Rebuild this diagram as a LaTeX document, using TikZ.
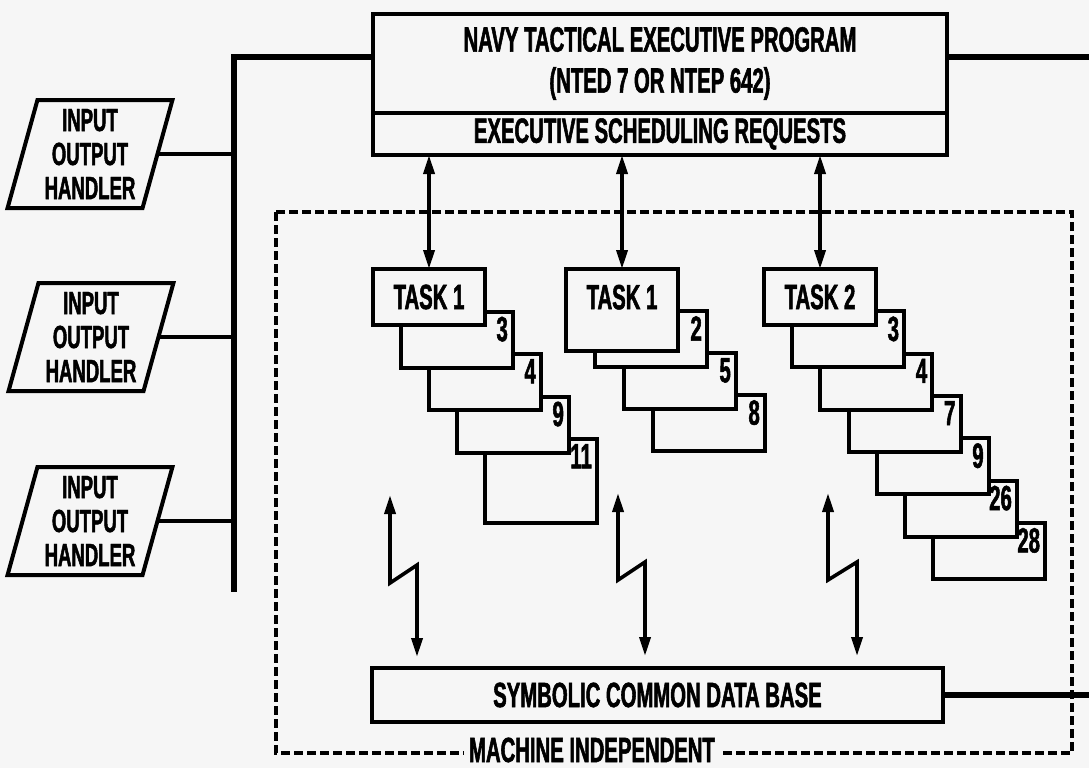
\documentclass[tikz,border=0pt]{standalone}
\usepackage{fontspec}
\newfontfamily\cond{Liberation Sans}[FakeStretch=0.58, BoldFeatures={FakeBold=1.5}]
\usetikzlibrary{arrows.meta, positioning, calc, shapes.geometric}
\definecolor{paper}{RGB}{246,246,246}

\tikzset{
  box/.style={draw, line width=4pt, fill=paper, inner sep=0pt, outer sep=0pt},
  taskbox/.style={box, anchor=north west, minimum width=112pt, minimum height=56pt},
  iobox/.style={box, trapezium, trapezium left angle=74, trapezium right angle=106,
    trapezium stretches=true, minimum width=165pt, minimum height=108pt, align=center,
    font=\cond\bfseries\fontsize{32}{34}\selectfont},
  numlabel/.style={anchor=north east, inner sep=5pt},
  bus/.style={line width=6.5pt},
  link/.style={line width=3.6pt},
  dblarrow/.style={line width=3.6pt, {Triangle[length=19pt,width=11pt]}-{Triangle[length=19pt,width=11pt]}},
  bolt/.style={dblarrow, line join=miter},
  frame/.style={line width=4pt, dash pattern=on 9pt off 4pt},
}

\begin{document}
\begin{tikzpicture}[x=1pt, y=-1pt, font=\cond\bfseries\fontsize{35}{41}\selectfont]
\fill[paper] (0,0) rectangle (1089,768);
\useasboundingbox (0,0) rectangle (1089,768);

% Rahmen
\draw[frame] (276,212) rectangle (1072,753);
\node[fill=paper, inner xsep=5pt, inner ysep=0pt] (mi) at (592,750) {MACHINE INDEPENDENT};

% Executive
\node[box, anchor=north west, minimum width=574pt, minimum height=99pt, align=center]
  (ntep) at (373,14) {NAVY TACTICAL EXECUTIVE PROGRAM\\(NTED 7 OR NTEP 642)};
\node[box, below=0pt of ntep, minimum width=574pt, minimum height=42pt]
  (esr) {EXECUTIVE SCHEDULING REQUESTS};

% I/O handlers
\node[iobox] (io1) at (90,154) {INPUT\\OUTPUT\\HANDLER};
\node[iobox] (io2) at (91,337) {INPUT\\OUTPUT\\HANDLER};
\node[iobox] (io3) at (90,521) {INPUT\\OUTPUT\\HANDLER};

% Bus
\coordinate (bustop) at (234,57);
\coordinate (busend) at (234,592);
\coordinate (rightend) at (1089,57);
\draw[bus] (bustop -| ntep.west) -- (bustop) -- (busend);
\draw[bus] (bustop -| ntep.east) -- (rightend);
\foreach \i in {1,2,3}
  \draw[link] (io\i.east) -- (io\i.east -| busend);

% Stapel 1
\foreach \k/\n/\h in {4/11/84, 3/9/56, 2/4/56, 1/3/56}
  \node[taskbox, minimum height=\h pt, label={[numlabel]north east:\n}]
    (s1k\k) at ({373+28*\k},{269+42.5*\k}) {};
\node[taskbox] (task1) at (373,269) {TASK 1};

% Stapel 2
\foreach \k/\n in {3/8, 2/5, 1/2}
  \node[taskbox, label={[numlabel]north east:\n}]
    (s2k\k) at ({566+29*\k},{269+42*\k}) {};
\node[taskbox, minimum height=82pt, text depth=26pt] (task2) at (566,269) {TASK 1};

% Stapel 3
\foreach \k/\n in {6/28, 5/26, 4/9, 3/7, 2/4, 1/3}
  \node[taskbox, label={[numlabel]north east:\n}]
    (s3k\k) at ({764+28.2*\k},{269+42.3*\k}) {};
\node[taskbox] (task3) at (764,269) {TASK 2};

% Anforderungen
\foreach \t in {task1, task2, task3}
  \draw[dblarrow] (\t.north |- esr.south) -- (\t.north);

% Datenbasis
\node[box, anchor=north west, minimum width=571pt, minimum height=54pt]
  (db) at (372,668) {SYMBOLIC COMMON DATA BASE};
\draw[bus] (db.east) -- (db.east -| rightend);

% Zugriffe
\coordinate (z1) at (390,495);
\coordinate (z2) at (618,493);
\coordinate (z3) at (828,493);
\draw[bolt, shorten >=11pt] (z1) -- ++(0,88) -- ++(27,-18) coordinate (k1) -- (k1 |- db.north);
\draw[bolt, shorten >=12pt] (z2) -- ++(0,87) -- ++(27,-18) coordinate (k2) -- (k2 |- db.north);
\draw[bolt, shorten >=12pt] (z3) -- ++(0,87) -- ++(29,-18) coordinate (k3) -- (k3 |- db.north);

\end{tikzpicture}
\end{document}
